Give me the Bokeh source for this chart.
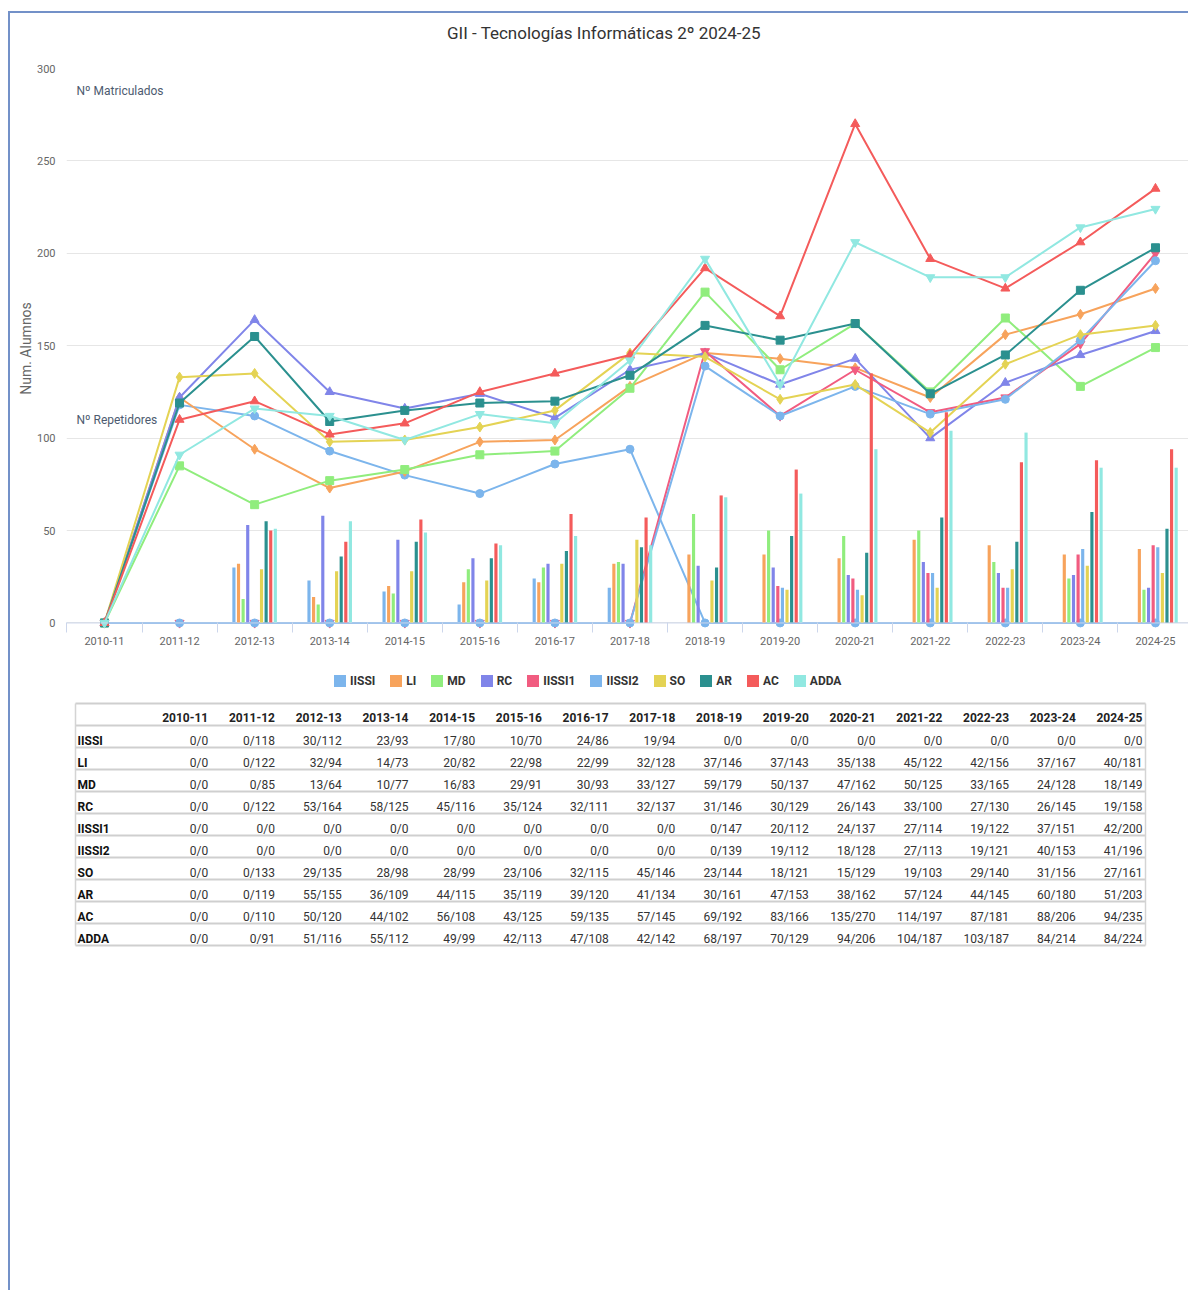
from bokeh.plotting import figure
from bokeh.models import Range1d, FixedTicker, Legend, LegendItem, Label, Span, ColumnDataSource
from bokeh.layouts import column
from bokeh.embed import file_html
from bokeh.resources import INLINE
from bokeh.core.properties import value

# ---------------- data ----------------
years = ["2010-11", "2011-12", "2012-13", "2013-14", "2014-15", "2015-16", "2016-17",
         "2017-18", "2018-19", "2019-20", "2020-21", "2021-22", "2022-23", "2023-24", "2024-25"]

subjects = ["IISSI", "LI", "MD", "RC", "IISSI1", "IISSI2", "SO", "AR", "AC", "ADDA"]

# repetidores (bars)
rep_IISSI = [0, 0, 30, 23, 17, 10, 24, 19, 0, 0, 0, 0, 0, 0, 0]
rep_LI = [0, 0, 32, 14, 20, 22, 22, 32, 37, 37, 35, 45, 42, 37, 40]
rep_MD = [0, 0, 13, 10, 16, 29, 30, 33, 59, 50, 47, 50, 33, 24, 18]
rep_RC = [0, 0, 53, 58, 45, 35, 32, 32, 31, 30, 26, 33, 27, 26, 19]
rep_IISSI1 = [0, 0, 0, 0, 0, 0, 0, 0, 0, 20, 24, 27, 19, 37, 42]
rep_IISSI2 = [0, 0, 0, 0, 0, 0, 0, 0, 0, 19, 18, 27, 19, 40, 41]
rep_SO = [0, 0, 29, 28, 28, 23, 32, 45, 23, 18, 15, 19, 29, 31, 27]
rep_AR = [0, 0, 55, 36, 44, 35, 39, 41, 30, 47, 38, 57, 44, 60, 51]
rep_AC = [0, 0, 50, 44, 56, 43, 59, 57, 69, 83, 135, 114, 87, 88, 94]
rep_ADDA = [0, 0, 51, 55, 49, 42, 47, 42, 68, 70, 94, 104, 103, 84, 84]

# matriculados (lines)
mat_IISSI = [0, 118, 112, 93, 80, 70, 86, 94, 0, 0, 0, 0, 0, 0, 0]
mat_LI = [0, 122, 94, 73, 82, 98, 99, 128, 146, 143, 138, 122, 156, 167, 181]
mat_MD = [0, 85, 64, 77, 83, 91, 93, 127, 179, 137, 162, 125, 165, 128, 149]
mat_RC = [0, 122, 164, 125, 116, 124, 111, 137, 146, 129, 143, 100, 130, 145, 158]
mat_IISSI1 = [0, 0, 0, 0, 0, 0, 0, 0, 147, 112, 137, 114, 122, 151, 200]
mat_IISSI2 = [0, 0, 0, 0, 0, 0, 0, 0, 139, 112, 128, 113, 121, 153, 196]
mat_SO = [0, 133, 135, 98, 99, 106, 115, 146, 144, 121, 129, 103, 140, 156, 161]
mat_AR = [0, 119, 155, 109, 115, 119, 120, 134, 161, 153, 162, 124, 145, 180, 203]
mat_AC = [0, 110, 120, 102, 108, 125, 135, 145, 192, 166, 270, 197, 181, 206, 235]
mat_ADDA = [0, 91, 116, 112, 99, 113, 108, 142, 197, 129, 206, 187, 187, 214, 224]

y_ticks = [0, 50, 100, 150, 200, 250, 300]

repetidores = [rep_IISSI, rep_LI, rep_MD, rep_RC, rep_IISSI1, rep_IISSI2, rep_SO, rep_AR, rep_AC, rep_ADDA]
matriculados = [mat_IISSI, mat_LI, mat_MD, mat_RC, mat_IISSI1, mat_IISSI2, mat_SO, mat_AR, mat_AC, mat_ADDA]

colors = ["#7cb5ec", "#f7a35c", "#90ed7d", "#8085e9", "#f15c80",
          "#7cb5ec", "#e4d354", "#2b908f", "#f45b5b", "#91e8e1"]
markers = ["circle", "diamond", "square", "triangle", "inverted_triangle",
           "circle", "diamond", "square", "triangle", "inverted_triangle"]
marker_sizes = [8, 10, 8, 9, 9, 8, 10, 8, 9, 9]

FONT = "Roboto"
W = 1178
FL = 56          # left border (frame left) shared by all figures

# ---------------- title strip ----------------
ttl = figure(width=W, height=40, x_range=Range1d(FL, W), y_range=Range1d(40, 0),
             x_axis_type=None, y_axis_type=None, output_backend="svg",
             toolbar_location=None, min_border_left=FL, min_border_right=0,
             min_border_top=0, min_border_bottom=0)
ttl.grid.visible = False
ttl.outline_line_color = None
ttl.text(x=[593.5], y=[19.5], text=["GII - Tecnologías Informáticas 2º 2024-25"],
         text_align="center", text_baseline="middle", text_font=value(FONT),
         text_font_size="17px", text_color="#333333")

# ---------------- chart ----------------
n = len(years)
xs = list(range(n))
p = figure(width=W, height=607,
           x_range=Range1d(-0.506, 14.44), y_range=Range1d(-3, 300),
           output_backend="svg", toolbar_location=None,
           min_border_left=FL, min_border_right=0, min_border_top=15, min_border_bottom=32)
p.outline_line_color = None
p.background_fill_color = "white"
p.border_fill_color = "white"

# y axis
p.yaxis.ticker = FixedTicker(ticks=y_ticks)
p.yaxis.axis_line_color = None
p.yaxis.major_tick_line_color = None
p.yaxis.minor_tick_line_color = None
p.yaxis.major_tick_in = 0
p.yaxis.major_tick_out = 0
p.yaxis.minor_tick_in = 0
p.yaxis.minor_tick_out = 0
p.yaxis.major_label_standoff = 11
p.yaxis.major_label_text_font = FONT
p.yaxis.major_label_text_font_size = "11px"
p.yaxis.major_label_text_color = "#666666"
p.yaxis.axis_label = "Num. Alumnos"
p.yaxis.axis_label_text_font = FONT
p.yaxis.axis_label_text_font_size = "14px"
p.yaxis.axis_label_text_font_style = "normal"
p.yaxis.axis_label_text_color = "#666666"
p.yaxis.axis_label_standoff = 0
p.ygrid.ticker = FixedTicker(ticks=y_ticks)
p.ygrid.grid_line_color = "#e6e6e6"
p.xgrid.grid_line_color = None

# x axis
p.xaxis.ticker = FixedTicker(ticks=xs, minor_ticks=[i - 0.5 for i in range(n + 1)])
p.xaxis.major_label_overrides = {i: y for i, y in enumerate(years)}
p.xaxis.axis_line_color = None
p.xaxis.major_tick_line_color = None
p.xaxis.major_tick_in = 0
p.xaxis.major_tick_out = 0
p.xaxis.minor_tick_line_color = "#ccd6eb"
p.xaxis.minor_tick_in = 6
p.xaxis.minor_tick_out = 4
p.xaxis.major_label_standoff = 4
p.xaxis.major_label_text_font = FONT
p.xaxis.major_label_text_font_size = "11px"
p.xaxis.major_label_text_color = "#666666"

p.add_layout(Span(location=0, dimension="width", line_color="#ccd6eb", line_width=1))

# lines with markers (matriculados)
for k, s in enumerate(subjects):
    src = ColumnDataSource(dict(x=xs, y=matriculados[k]))
    p.line("x", "y", source=src, line_color=colors[k], line_width=2)
    p.scatter("x", "y", source=src, marker=markers[k], size=marker_sizes[k],
              fill_color=colors[k], line_color=colors[k])

# bars (repetidores), grouped around each category
pitch = 0.0613
bar_w = 0.042
for k, s in enumerate(subjects):
    off = (k - (len(subjects) - 1) / 2) * pitch
    src = ColumnDataSource(dict(x=[i + off for i in xs], top=repetidores[k]))
    p.vbar(x="x", top="top", bottom=0, width=bar_w, source=src,
           fill_color=colors[k], line_color=None)

p.add_layout(Label(x=-0.373, y=288, text="Nº Matriculados", text_font=FONT,
                   text_font_size="12px", text_color="#4d5b70", text_baseline="middle"))
p.add_layout(Label(x=-0.373, y=110, text="Nº Repetidores", text_font=FONT,
                   text_font_size="12px", text_color="#4d5b70", text_baseline="middle"))

# ---------------- legend + table ----------------
TH = 630
t = figure(width=W, height=TH, x_range=Range1d(FL, W), y_range=Range1d(TH, 0),
           x_axis_type=None, y_axis_type=None,
           output_backend="svg", toolbar_location=None,
           min_border_left=FL, min_border_right=0, min_border_top=0, min_border_bottom=0)
t.grid.visible = False
t.outline_line_color = None
t.border_fill_color = "white"

tbl_left, tbl_right, tbl_top, row_h = 65, 1135, 43, 22

# legend proxies (zero-height, so only their legend swatches are visible)
legend_items = []
for k, s in enumerate(subjects):
    r = t.vbar(x=[tbl_left], top=[0], bottom=0, width=0, fill_color=colors[k], line_color=None)
    legend_items.append(LegendItem(label=s, renderers=[r]))
legend = Legend(items=legend_items, orientation="horizontal", location=(266, TH - 28),
                glyph_width=15, glyph_height=15, label_standoff=3, spacing=13,
                label_width=0, padding=0, margin=0, border_line_color=None,
                background_fill_alpha=0,
                label_text_font=FONT, label_text_font_size="12px",
                label_text_font_style="bold", label_text_color="#333333")
t.add_layout(legend)

first_w = 69
col_w = (tbl_right - tbl_left - first_w) / n
n_rows = len(subjects) + 1

# row separators and outer border
ys = [tbl_top + row_h * k for k in range(n_rows + 1)]
t.segment(x0=[tbl_left] * len(ys), x1=[tbl_right] * len(ys), y0=ys, y1=ys,
          line_color="#cfcfcf", line_width=2)
t.segment(x0=[tbl_left, tbl_right], x1=[tbl_left, tbl_right],
          y0=[tbl_top, tbl_top], y1=[ys[-1], ys[-1]], line_color="#d4d4d4", line_width=1.5)

col_right = [tbl_left + first_w + col_w * (c + 1) - 3 for c in range(n)]

# header
t.text(x=col_right, y=[tbl_top + 14] * n, text=years, text_align="right",
       text_baseline="middle", text_font=value(FONT), text_font_size="12px",
       text_font_style="bold", text_color="#222222")

# row labels
t.text(x=[tbl_left + 2] * len(subjects),
       y=[tbl_top + row_h * (r + 1) + 15 for r in range(len(subjects))],
       text=subjects, text_align="left", text_baseline="middle",
       text_font=value(FONT), text_font_size="12px", text_font_style="bold",
       text_color="#111111")

cx, cy, ct = [], [], []
for r, s in enumerate(subjects):
    for c in range(n):
        cx.append(col_right[c])
        cy.append(tbl_top + row_h * (r + 1) + 15)
        ct.append(f"{repetidores[r][c]}/{matriculados[r][c]}")
t.text(x=cx, y=cy, text=ct, text_align="right", text_baseline="middle",
       text_font=value(FONT), text_font_size="12px", text_color="#333333")

layout = column(ttl, p, t, styles={"margin-left": "8px", "margin-top": "11px",
                                   "border-left": "2px solid #7391c8",
                                   "border-top": "2px solid #7391c8"})

open("out.html", "w").write(file_html(layout, INLINE))
